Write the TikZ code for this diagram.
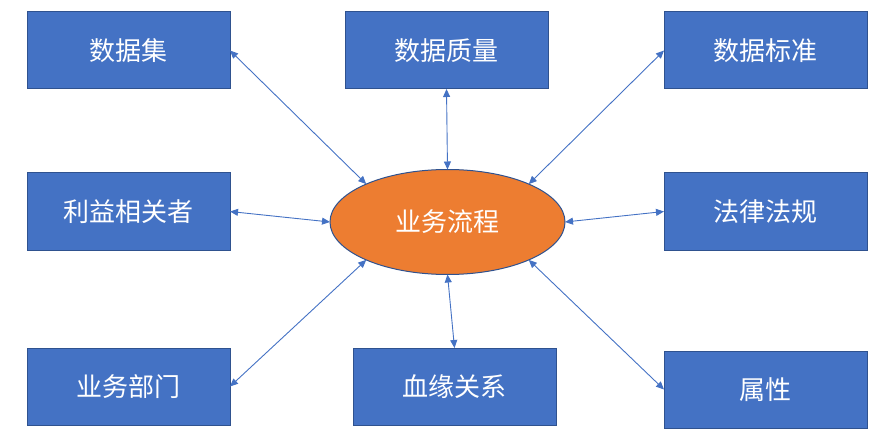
\documentclass[tikz,border=0pt]{standalone}
\usepackage{fontspec}
\newfontfamily\cjk{Noto Sans CJK SC}
\usetikzlibrary{arrows.meta,shapes.geometric}
\definecolor{boxblue}{HTML}{4472C4}
\definecolor{boxedge}{HTML}{2F528F}
\definecolor{ellorange}{HTML}{ED7D31}
\begin{document}
\begin{tikzpicture}[x=1pt,y=-1pt,
  box/.style={draw=boxedge, line width=1pt, fill=boxblue, minimum width=203pt, minimum height=77pt, inner sep=0pt, outer sep=0pt, text=white, font=\cjk\fontsize{26pt}{30pt}\selectfont},
  hub/.style={ellipse, draw=boxedge, line width=1pt, fill=ellorange, minimum width=235pt, minimum height=105pt, inner sep=0pt, outer sep=0pt, text=white, font=\cjk\fontsize{26pt}{30pt}\selectfont},
  link/.style={draw=boxblue, line width=0.9pt, {Triangle[length=8pt,width=7pt]}-{Triangle[length=8pt,width=7pt]}}]
\useasboundingbox (0,0) rectangle (882,438);
\node[hub] (e) at (447.5,222) {业务流程};
\node[box] (a) at (128.5,50.5) {数据集};
\node[box] (q) at (446.5,50.5) {数据质量};
\node[box] (s) at (765.5,50.5) {数据标准};
\node[box] (p) at (128.5,211.5) {利益相关者};
\node[box] (l) at (765.5,211.5) {法律法规};
\node[box] (b) at (128.5,386.5) {业务部门};
\node[box] (x) at (454.5,386.5) {血缘关系};
\node[box] (t) at (765.5,389.5) {属性};
\draw[link] (a.east) -- (e.155);
\draw[link] (q.south) -- (e.north);
\draw[link] (s.west) -- (e.25);
\draw[link] (p.east) -- (e.west);
\draw[link] (l.west) -- (e.east);
\draw[link] (b.east) -- (e.205);
\draw[link] (x.north) -- (e.south);
\draw[link] (t.west) -- (e.335);
\end{tikzpicture}
\end{document}
